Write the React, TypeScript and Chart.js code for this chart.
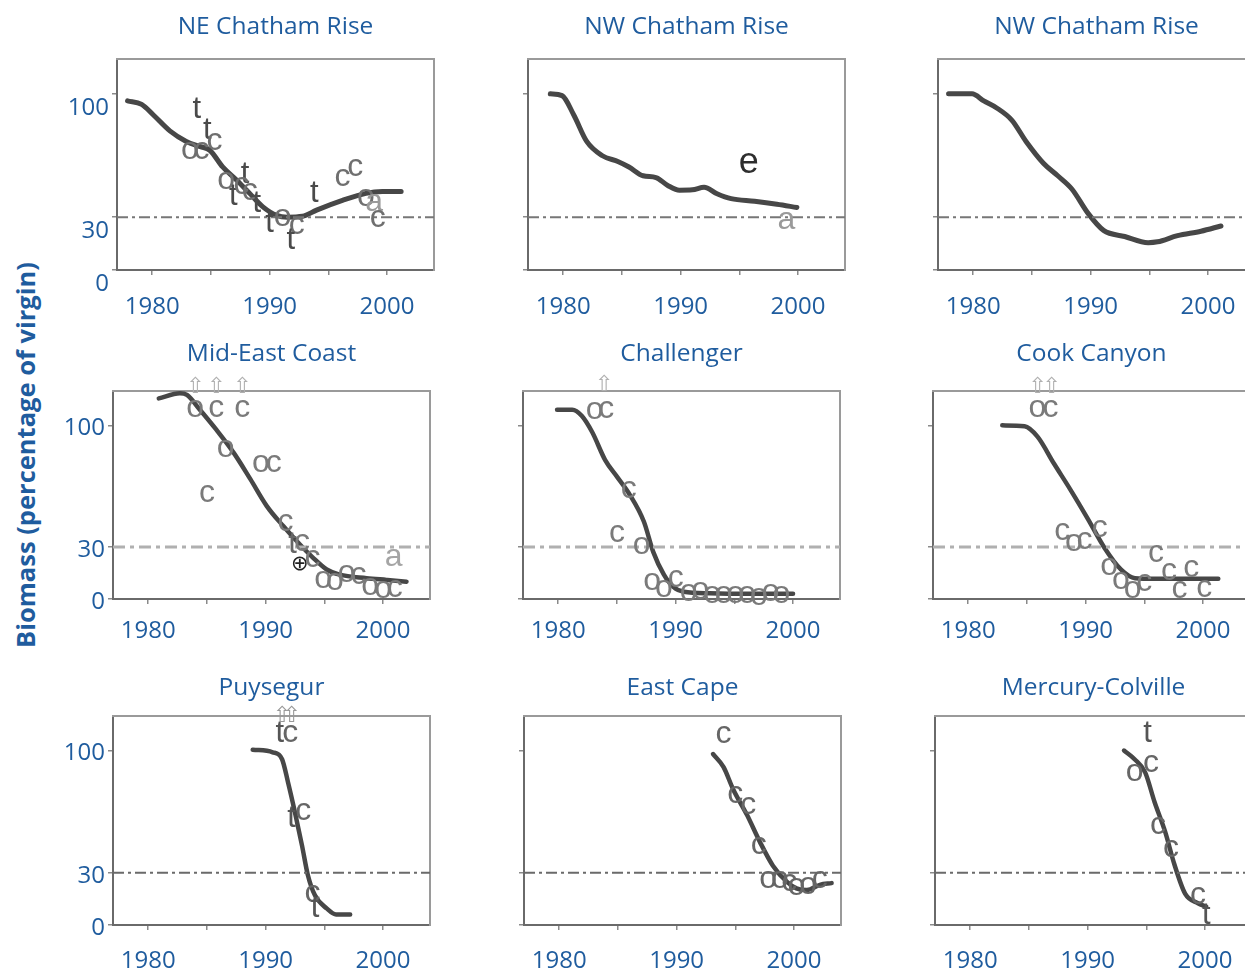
import React, { useEffect, useRef } from 'react';
import { Chart, registerables } from 'chart.js';

Chart.register(...registerables);

// ---------------- data ----------------
const xTickValues = [1980, 1985, 1990, 1995, 2000];
const xLabelValues = [1980, 1990, 2000];
const yTickValues = [0, 30, 100];
const thresholdValue = 30;
const yAxisTitle = 'Biomass (percentage of virgin)';

const titles = [
  'NE Chatham Rise', 'NW Chatham Rise', 'NW Chatham Rise',
  'Mid-East Coast', 'Challenger', 'Cook Canyon',
  'Puysegur', 'East Cape', 'Mercury-Colville',
];

const neChathamCurve: [number, number][] = [
  [1977.9, 96], [1979.1, 94], [1980.1, 88], [1981.5, 79], [1982.9, 73], [1984.1, 70],
  [1984.9, 68], [1986.0, 58.5], [1987.2, 51], [1988.3, 43.5], [1989.4, 36], [1990.6, 31],
  [1991.5, 30], [1992.8, 30.5], [1994.0, 34], [1996.2, 39.5], [1998.2, 43.5], [1999.6, 44.5],
  [2001.2, 44.5],
];
const neChathamMarks: [number, number, string][] = [
  [1983.8, 91, 't'], [1984.7, 79, 't'], [1985.3, 73, 'c'], [1983.2, 68, 'o'], [1984.2, 68, 'c'],
  [1986.3, 51, 'o'], [1986.9, 42, 't'], [1987.9, 54, 't'], [1987.6, 48, 'c'], [1988.3, 45, 'c'],
  [1988.9, 38, 't'], [1990.0, 26.5, 't'], [1991.1, 30, 'o'], [1992.3, 25.5, 'c'], [1991.8, 17, 't'],
  [1993.8, 43.5, 't'], [1996.2, 52.5, 'c'], [1997.3, 58.5, 'c'], [1998.2, 41.5, 'o'],
  [1998.9, 38.5, 'a'], [1999.2, 29.5, 'c'],
];

const nwChathamCurve: [number, number][] = [
  [1978.9, 100], [1979.9, 99], [1980.9, 88], [1982.0, 73], [1983.3, 65], [1984.7, 61.5],
  [1985.6, 58.5], [1986.8, 53.5], [1987.9, 52.5], [1988.9, 48], [1989.9, 45.3], [1991.0, 45.5],
  [1992.0, 47], [1993.1, 43.3], [1994.3, 40.5], [1996.3, 39], [1998.2, 37.3], [1999.9, 35.5],
];
const nwChathamMarks: [number, number, string][] = [
  [1995.8, 60.5, 'e'], [1999.0, 28.5, 'a'],
];

const nwChatham2Curve: [number, number][] = [
  [1977.9, 100], [1979.9, 100], [1980.9, 96], [1982.0, 92], [1983.3, 85], [1984.5, 73],
  [1986.0, 60.5], [1987.2, 53.5], [1988.4, 46], [1989.8, 32], [1991.1, 22.5], [1992.9, 19],
  [1994.9, 15.5], [1995.7, 16], [1997.4, 19.5], [1999.4, 22], [2001.1, 25],
];
const nwChatham2Marks: [number, number, string][] = [];

const midEastCurve: [number, number][] = [
  [1980.9, 115.5], [1982.7, 118.5], [1983.3, 117.5], [1984.4, 109], [1985.8, 97.5], [1987.3, 84],
  [1988.7, 69], [1990.1, 53.5], [1991.5, 42], [1992.9, 31.5], [1994.0, 24], [1995.2, 17],
  [1996.3, 14], [1998.6, 12], [2000.3, 11], [2002.0, 10],
];
const midEastMarks: [number, number, string][] = [
  [1984.0, 110, 'o'], [1985.8, 110, 'c'], [1988.0, 110, 'c'],
  [1984.0, 122, '⇧'], [1985.8, 122, '⇧'], [1988.0, 122, '⇧'],
  [1986.6, 87, 'o'], [1989.6, 78, 'o'], [1990.7, 78, 'c'], [1985.0, 61, 'c'],
  [1991.7, 44, 'c'], [1992.3, 31.5, 't'], [1993.1, 33, 'c'], [1992.9, 20, '⊕'], [1994.0, 23.5, 'c'],
  [1994.9, 11.5, 'o'], [1995.9, 10.5, 'o'], [1996.9, 15, 'o'], [1997.9, 14, 'c'],
  [1998.9, 7.5, 'o'], [2000.0, 5.5, 'o'], [2001.0, 6.5, 'c'], [2000.9, 24, 'a'],
];

const challengerCurve: [number, number][] = [
  [1979.9, 109], [1981.2, 109], [1982.0, 105.5], [1982.9, 96], [1984.0, 80], [1985.0, 70.5],
  [1986.1, 60], [1987.3, 44.5], [1988.1, 27], [1989.0, 14], [1989.8, 7], [1990.7, 4.2],
  [1992.9, 3.3], [1995.8, 3], [2000.0, 3],
];
const challengerMarks: [number, number, string][] = [
  [1983.1, 109, 'o'], [1984.1, 109.5, 'c'], [1983.9, 123, '⇧'],
  [1986.0, 63, 'c'], [1985.0, 38, 'c'], [1987.1, 31, 'o'],
  [1988.0, 10, 'o'], [1989.0, 6, 'o'], [1990.0, 12, 'c'],
  [1991.1, 4, 'o'], [1992.1, 5, 'o'], [1993.1, 3, 'o'], [1994.1, 3, 'o'], [1995.1, 3, 'o'],
  [1996.1, 3, 'o'], [1997.1, 1.5, 'o'], [1998.1, 4, 'o'], [1999.0, 3, 'o'],
];

const cookCanyonCurve: [number, number][] = [
  [1982.9, 100], [1984.8, 99.5], [1985.9, 93.5], [1987.3, 78], [1988.7, 63], [1990.2, 46],
  [1991.6, 29.5], [1993.0, 17], [1994.2, 12], [1995.9, 11.7], [2001.3, 11.7],
];
const cookCanyonMarks: [number, number, string][] = [
  [1985.9, 110, 'o'], [1987.0, 110, 'c'], [1985.9, 122, '⇧'], [1987.1, 122, '⇧'],
  [1988.0, 39, 'c'], [1989.0, 33, 'o'], [1989.9, 34, 'c'], [1991.2, 41, 'c'],
  [1992.0, 19, 'o'], [1993.0, 11, 'o'], [1994.0, 5.5, 'o'], [1995.0, 9.5, 'c'],
  [1996.0, 26.5, 'c'], [1997.1, 16, 'c'], [1998.0, 5.5, 'c'], [1999.0, 18, 'c'], [2000.1, 6.5, 'c'],
];

const puysegurCurve: [number, number][] = [
  [1988.9, 100.5], [1990.6, 99], [1991.4, 95], [1991.9, 82], [1992.5, 64.5], [1993.1, 45.5],
  [1993.6, 28.5], [1994.2, 17], [1995.2, 9.5], [1996.0, 6], [1997.2, 6],
];
const puysegurMarks: [number, number, string][] = [
  [1991.2, 110, 't'], [1992.1, 110, 'c'], [1991.4, 119.5, '⇧'], [1992.2, 119.5, '⇧'],
  [1993.2, 65.5, 'c'], [1992.2, 61, 't'], [1994.0, 18, 'c'], [1994.2, 9.5, 't'],
];

const eastCapeCurve: [number, number][] = [
  [1993.1, 98], [1994.0, 90.5], [1994.8, 78], [1996.0, 63], [1997.1, 47.5], [1998.2, 34],
  [1999.4, 24.7], [2000.2, 21], [2001.1, 20], [2002.2, 23], [2003.2, 24],
];
const eastCapeMarks: [number, number, string][] = [
  [1994.0, 109.5, 'c'], [1995.0, 75, 'c'], [1996.1, 68.5, 'c'], [1997.0, 45.5, 'c'],
  [1997.8, 26.5, 'o'], [1998.8, 26.5, 'o'], [1999.6, 24.5, 'c'], [2000.2, 22, 'o'],
  [2001.2, 23, 'o'], [2002.2, 26.5, 'c'],
];

const mercuryCurve: [number, number][] = [
  [1993.1, 100], [1994.0, 95], [1994.9, 87.5], [1995.7, 70.5], [1996.6, 53.5], [1997.4, 34.5],
  [1998.3, 18], [1999.4, 12.5], [2000.1, 10.5],
];
const mercuryMarks: [number, number, string][] = [
  [1995.1, 109.5, 't'], [1995.4, 93, 'c'], [1994.0, 87.5, 'o'], [1996.0, 57, 'c'],
  [1997.1, 44, 'c'], [1999.4, 17, 'c'], [2000.1, 5.5, 't'],
];

const curves = [
  neChathamCurve, nwChathamCurve, nwChatham2Curve,
  midEastCurve, challengerCurve, cookCanyonCurve,
  puysegurCurve, eastCapeCurve, mercuryCurve,
];
const marks = [
  neChathamMarks, nwChathamMarks, nwChatham2Marks,
  midEastMarks, challengerMarks, cookCanyonMarks,
  puysegurMarks, eastCapeMarks, mercuryMarks,
];

// ---------------- layout & style ----------------
const X_MIN = 1977;
const X_MAX = 2004;
const Y_MIN = 0;
const Y_MAX = 120;
const BLUE = '#1f5c9e';
const UI_FONT = '"Open Sans", "DejaVu Sans", sans-serif';
const MARK_FONT = '"Liberation Sans", Arial, sans-serif';

const BOX_W = 317;
const Y_AXIS_W = 70;
const X_AXIS_H = 55;
const RIGHT_PAD = 3;

const rows = [
  { boxTop: 58, boxBottom: 270, titleGap: 31, xLabelGap: 37, yLabelOffset: 14, curveW: 5, dash: [11, 4, 3, 4], dashColor: '#777', dashW: 2 },
  { boxTop: 390, boxBottom: 599, titleGap: 36, xLabelGap: 32, yLabelOffset: 3, curveW: 4.5, dash: [12, 5, 4, 5], dashColor: '#b0b0b0', dashW: 3 },
  { boxTop: 715, boxBottom: 925, titleGap: 27, xLabelGap: 36, yLabelOffset: 3, curveW: 4.5, dash: [11, 4, 3, 4], dashColor: '#6a6a6a', dashW: 2 },
];
const colBoxLeft = [
  [117, 528, 938],
  [113, 523, 933],
  [113, 524, 935],
];

const glyphStyles: Record<string, { color: string[]; font: string }> = {
  c: { color: ['#6f6f6f', '#7a7a7a', '#666'], font: `32px ${MARK_FONT}` },
  o: { color: ['#6f6f6f', '#7a7a7a', '#666'], font: `32px ${MARK_FONT}` },
  t: { color: ['#4a4a4a', '#666', '#555'], font: `31px ${MARK_FONT}` },
  e: { color: ['#2e2e2e', '#2e2e2e', '#2e2e2e'], font: `36px ${MARK_FONT}` },
  a: { color: ['#9a9a9a', '#a5a5a5', '#9a9a9a'], font: `32px ${MARK_FONT}` },
  '⇧': { color: ['#aaa', '#b0b0b0', '#999'], font: `22px "DejaVu Sans", sans-serif` },
  '⊕': { color: ['#222', '#222', '#222'], font: `21px "DejaVu Sans", sans-serif` },
};

const glyphPlugin = {
  id: 'glyphMarks',
  afterDatasetsDraw(chart: any) {
    const ctx = chart.ctx;
    chart.data.datasets.forEach((ds: any, i: number) => {
      if (!ds.glyphs) return;
      const meta = chart.getDatasetMeta(i);
      ctx.save();
      ctx.textAlign = 'center';
      ctx.textBaseline = 'middle';
      meta.data.forEach((el: any, j: number) => {
        const g = ds.glyphs[j];
        const st = glyphStyles[g] || glyphStyles.c;
        ctx.font = st.font;
        ctx.fillStyle = st.color[ds.rowIndex];
        ctx.fillText(g, el.x, el.y);
      });
      ctx.restore();
    });
  },
};

function Panel({ index }: { index: number }) {
  const ref = useRef<HTMLCanvasElement>(null);
  const r = Math.floor(index / 3);
  const c = index % 3;
  const row = rows[r];
  const titleBlock = row.titleGap + 15;
  const boxH = row.boxBottom - row.boxTop;
  const width = Y_AXIS_W + BOX_W + RIGHT_PAD;
  const height = titleBlock + boxH + X_AXIS_H;
  const left = colBoxLeft[r][c] - Y_AXIS_W;
  const top = row.boxTop - titleBlock;

  useEffect(() => {
    const curve = curves[index];
    const mk = marks[index];
    const chart = new Chart(ref.current as HTMLCanvasElement, {
      type: 'line',
      data: {
        datasets: [
          {
            data: [{ x: X_MIN, y: thresholdValue }, { x: X_MAX, y: thresholdValue }],
            borderColor: row.dashColor,
            borderWidth: row.dashW,
            borderDash: row.dash,
            pointRadius: 0,
            fill: false,
          } as any,
          {
            data: curve.map(([x, y]) => ({ x, y })),
            borderColor: '#474747',
            borderWidth: row.curveW,
            pointRadius: 0,
            cubicInterpolationMode: 'monotone',
            borderCapStyle: 'round',
            borderJoinStyle: 'round',
            fill: false,
          } as any,
          {
            data: mk.map(([x, y]) => ({ x, y })),
            glyphs: mk.map((m) => m[2]),
            rowIndex: r,
            showLine: false,
            pointRadius: 0,
            clip: false,
          } as any,
        ],
      },
      options: {
        animation: false,
        responsive: false,
        maintainAspectRatio: false,
        devicePixelRatio: 1,
        layout: { padding: { left: 0, top: 0, bottom: 0, right: RIGHT_PAD } },
        plugins: {
          legend: { display: false },
          tooltip: { enabled: false },
          title: {
            display: true,
            text: titles[index],
            color: BLUE,
            fullSize: false,
            font: { family: UI_FONT, size: 24.5, weight: 'normal', lineHeight: 1.25 },
            padding: { top: 0, bottom: row.titleGap - 15 },
          },
        },
        scales: {
          x: {
            type: 'linear',
            position: 'bottom',
            min: X_MIN,
            max: X_MAX,
            afterBuildTicks: (s: any) => { s.ticks = xTickValues.map((v) => ({ value: v })); },
            afterFit: (s: any) => { s.height = X_AXIS_H; },
            ticks: {
              autoSkip: false,
              maxRotation: 0,
              color: BLUE,
              padding: row.xLabelGap - 20,
              font: { family: UI_FONT, size: 24, lineHeight: 1.25 },
              callback: (v: any) => (xLabelValues.includes(Number(v)) ? String(v) : ''),
            },
            grid: { drawOnChartArea: false, tickLength: 5, color: '#8a8a8a', lineWidth: 1.5 },
            border: { color: '#6a6a6a', width: 2 },
          },
          y: {
            type: 'linear',
            position: 'left',
            min: Y_MIN,
            max: Y_MAX,
            afterBuildTicks: (s: any) => { s.ticks = yTickValues.map((v) => ({ value: v })); },
            afterFit: (s: any) => { s.width = Y_AXIS_W; },
            ticks: {
              autoSkip: false,
              color: BLUE,
              padding: 3,
              labelOffset: row.yLabelOffset,
              font: { family: UI_FONT, size: 24, lineHeight: 1.25 },
              callback: (v: any) => (c === 0 ? String(v) : ''),
            },
            grid: { drawOnChartArea: false, tickLength: 5, color: '#8a8a8a', lineWidth: 1.5 },
            border: { color: '#6a6a6a', width: 2 },
          },
          x2: {
            type: 'linear',
            position: 'top',
            min: X_MIN,
            max: X_MAX,
            afterFit: (s: any) => { s.height = 0; },
            ticks: { display: false },
            grid: { drawOnChartArea: false, drawTicks: false },
            border: { color: '#9a9a9a', width: 2 },
          },
          y2: {
            type: 'linear',
            position: 'right',
            min: Y_MIN,
            max: Y_MAX,
            afterFit: (s: any) => { s.width = 0; },
            ticks: { display: false },
            grid: { drawOnChartArea: false, drawTicks: false },
            border: { color: '#9a9a9a', width: 2 },
          },
        },
      } as any,
      plugins: [glyphPlugin],
    });
    return () => chart.destroy();
  }, [index]);

  return (
    <canvas
      ref={ref}
      width={width}
      height={height}
      style={{ position: 'absolute', left, top, width, height }}
    />
  );
}

export default function App() {
  return (
    <div
      style={{
        position: 'fixed',
        left: 0,
        top: 0,
        width: 1245,
        height: 971,
        overflow: 'hidden',
        background: '#fff',
      }}
    >
      {titles.map((_, i) => (
        <Panel key={i} index={i} />
      ))}
      <div
        style={{
          position: 'absolute',
          left: 25,
          top: 455,
          transform: 'translate(-50%, -50%) rotate(-90deg)',
          whiteSpace: 'nowrap',
          color: BLUE,
          fontFamily: UI_FONT,
          fontWeight: 700,
          fontSize: 25.5,
        }}
      >
        {yAxisTitle}
      </div>
    </div>
  );
}
